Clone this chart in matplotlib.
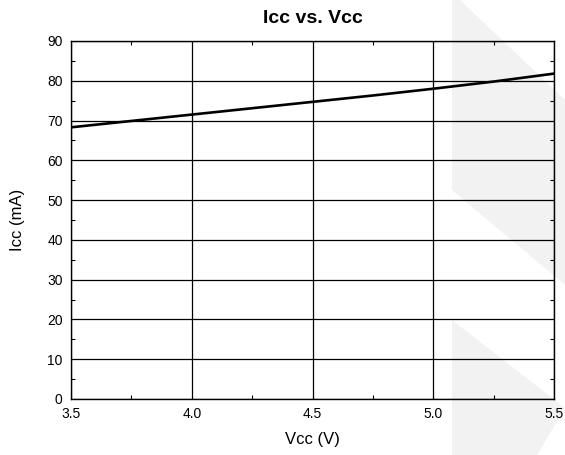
import matplotlib.pyplot as plt
from matplotlib.patches import Polygon
from matplotlib.ticker import MultipleLocator

# supply voltage (V) and supply current (mA)
vcc = [3.5, 3.75, 4.0, 4.25, 4.5, 4.75, 5.0, 5.25, 5.5]
icc = [68.3, 69.9, 71.5, 73.1, 74.7, 76.3, 78.0, 79.8, 81.8]

x_ticks = [3.5, 4.0, 4.5, 5.0, 5.5]
y_ticks = [0, 10, 20, 30, 40, 50, 60, 70, 80, 90]

plt.rcParams['font.family'] = ['Liberation Sans', 'DejaVu Sans']

fig = plt.figure(figsize=(5.65, 4.55), dpi=100)
ax = fig.add_axes([0.1257, 0.1231, 0.8549, 0.7868])
ax.set_facecolor('none')

# light grey watermark shapes behind the plot (pixel coords of a 565x455 image)
W, H = 565.0, 455.0
shapes = [
    [(452, 0), (460, 0), (565, 100), (565, 285), (452, 190)],
    [(452, 320), (565, 408), (537, 455), (452, 455)],
]
for pts in shapes:
    poly = Polygon([(px / W, 1 - py / H) for px, py in pts], closed=True,
                   transform=fig.transFigure, facecolor='#f2f2f2',
                   edgecolor='none', zorder=-1)
    fig.patches.append(poly)

ax.plot(vcc, icc, color='black', linewidth=1.9, zorder=3)

ax.set_xlim(3.5, 5.5)
ax.set_ylim(0, 90)
ax.set_xticks(x_ticks)
ax.set_xticklabels([f"{v:.1f}" for v in x_ticks])
ax.set_yticks(y_ticks)
ax.xaxis.set_minor_locator(MultipleLocator(0.25))
ax.yaxis.set_minor_locator(MultipleLocator(5))
ax.grid(True, which='major', color='black', linewidth=0.9)
ax.tick_params(which='both', direction='in', top=True, right=True,
               labelsize=10, colors='black')
ax.tick_params(which='major', length=0, pad=6)
ax.tick_params(which='minor', length=3, width=0.8)
for s in ax.spines.values():
    s.set_color('black')
    s.set_linewidth(1.0)

ax.set_xlabel('Vcc (V)', fontsize=12, labelpad=8)
ax.set_ylabel('Icc (mA)', fontsize=12, labelpad=16)
ax.set_title('Icc vs. Vcc', fontsize=14, fontweight='bold', pad=13)

fig.savefig('out.png', dpi=100)
